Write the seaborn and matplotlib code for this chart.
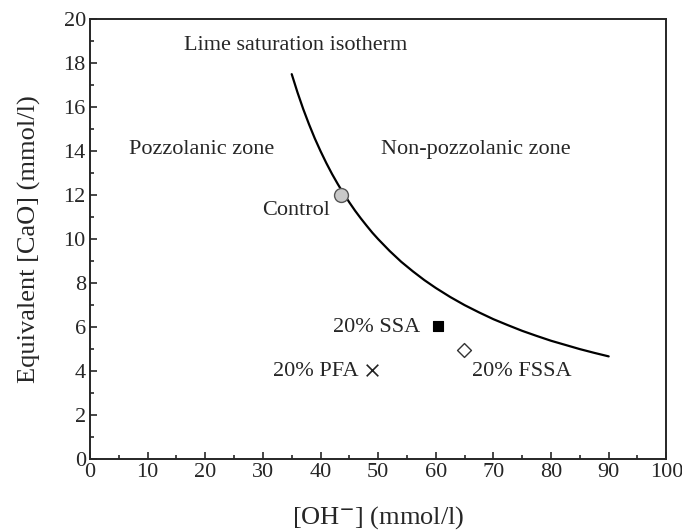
import matplotlib
matplotlib.use("Agg")
import matplotlib.pyplot as plt
import seaborn as sns
import pandas as pd
from matplotlib.ticker import MultipleLocator

# Lime saturation isotherm
curve_oh = [35, 36, 37, 38, 39, 40, 41, 42, 43, 44, 45, 46, 47, 48, 49, 50, 52, 54, 56, 58,
            60, 62.5, 65, 67.5, 70, 72.5, 75, 77.5, 80, 82.5, 85, 87.5, 90]
curve_cao = [17.5, 16.67, 15.91, 15.22, 14.58, 14.0, 13.46, 12.96, 12.5, 12.07, 11.67, 11.29,
             10.94, 10.61, 10.29, 10.0, 9.46, 8.97, 8.54, 8.14, 7.78, 7.37, 7.0, 6.67, 6.36,
             6.09, 5.83, 5.60, 5.38, 5.19, 5.0, 4.83, 4.67]

# Samples
samples = ["Control", "20% SSA", "20% FSSA", "20% PFA"]
sample_oh = [43.6, 60.3, 64.9, 48.9]
sample_cao = [12.0, 6.05, 4.97, 4.05]

sns.set_style("ticks")
plt.rcParams['font.family'] = ['Liberation Serif', 'DejaVu Serif']
plt.rcParams['mathtext.fontset'] = 'stix'

fig = plt.figure(figsize=(6.82, 5.32), dpi=100)
ax = fig.add_axes([0.132, 0.137, 0.845, 0.827])

curve_df = pd.DataFrame({"oh": curve_oh, "cao": curve_cao})
sns.lineplot(data=curve_df, x="oh", y="cao", ax=ax, color="black", lw=1.6, sort=False)

styles = {
    "Control": dict(marker="o", s=100, facecolor="#c8c8c8", edgecolor="#555555", linewidth=1.0),
    "20% SSA": dict(marker="s", s=60, facecolor="black", edgecolor="black", linewidth=0.8),
    "20% FSSA": dict(marker="D", s=50, facecolor="white", edgecolor="#333333", linewidth=1.0),
    "20% PFA": dict(marker="x", s=70, color="#222222", linewidth=1.2),
}
for name, x, y in zip(samples, sample_oh, sample_cao):
    sns.scatterplot(x=[x], y=[y], ax=ax, zorder=3, **styles[name])

fs = 16
ax.text(35.6, 18.8, "Lime saturation isotherm", ha="center", va="center", fontsize=fs)
ax.text(19.3, 14.06, "Pozzolanic zone", ha="center", va="center", fontsize=fs)
ax.text(66.9, 14.06, "Non-pozzolanic zone", ha="center", va="center", fontsize=fs)
ax.text(35.8, 11.3, "Control", ha="center", va="center", fontsize=fs)
ax.text(57.3, 6.0, "20% SSA", ha="right", va="center", fontsize=fs)
ax.text(46.6, 4.0, "20% PFA", ha="right", va="center", fontsize=fs)
ax.text(66.3, 4.0, "20% FSSA", ha="left", va="center", fontsize=fs)

ax.set_xlim(0, 100)
ax.set_ylim(0, 20)
ax.xaxis.set_major_locator(MultipleLocator(10))
ax.xaxis.set_minor_locator(MultipleLocator(5))
ax.yaxis.set_major_locator(MultipleLocator(2))
ax.yaxis.set_minor_locator(MultipleLocator(1))
ax.tick_params(which="both", direction="in", top=False, right=False, labelsize=16, width=1.2)
ax.tick_params(which="major", length=5, pad=3)
ax.tick_params(which="minor", length=3)
for sp in ax.spines.values():
    sp.set_visible(True)
    sp.set_linewidth(1.4)

ax.set_xlabel(r"[OH$^{\mathbf{-}}$] (mmol/l)", fontsize=19, labelpad=16)
ax.set_ylabel("Equivalent [CaO] (mmol/l)", fontsize=19, labelpad=16)

fig.savefig("out.png", dpi=100)
